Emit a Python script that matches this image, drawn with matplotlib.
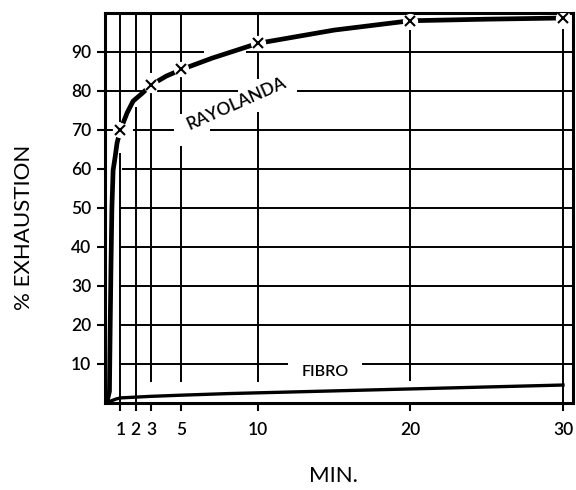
import matplotlib
matplotlib.use("Agg")
import matplotlib.pyplot as plt

plt.rcParams['font.family'] = ['Lato', 'DejaVu Sans']
plt.rcParams['font.weight'] = 'semibold'

# curve (minutes, % exhaustion)
rayolanda_t = [0, 0.15, 0.28, 0.3, 0.33, 0.38, 0.44, 0.52, 0.65, 0.78, 1.0, 1.44,
               1.83, 2.4, 3, 4, 5, 7, 10, 15, 20, 25, 30]
rayolanda_pct = [0, 0.8, 3, 10, 20, 35, 50, 59.7, 63, 66.7, 70, 74.4,
                 77.4, 79.3, 81.5, 83.8, 85.5, 88.4, 92.2, 95.6, 98, 98.4, 98.7]

# measured points (crosses)
marker_t = [1, 3, 5, 10, 20, 30]
marker_pct = [70, 81.5, 85.5, 92.2, 98, 98.7]

fibro_t = [0, 0.3, 0.7, 1, 2, 3, 5, 8, 10, 15, 20, 25, 30]
fibro_pct = [0, 0.4, 1.0, 1.3, 1.5, 1.7, 2.0, 2.4, 2.6, 3.1, 3.6, 4.1, 4.6]

x_ticks = [1, 2, 3, 5, 10, 20, 30]
y_ticks = [10, 20, 30, 40, 50, 60, 70, 80, 90]

XMAX = 30.65

# grid segments, broken where the curve and labels cross (as in the drawing)
h_segments = {
    90: [(0, 6.5), (9.2, XMAX)],
    80: [(0, 2.5), (3.4, 8.7), (12.6, XMAX)],
    70: [(0, 0.5), (1.8, 4.5), (6.9, XMAX)],
    60: [(0, 0.15), (1.1, XMAX)],
    50: [(0.9, XMAX)],
    40: [(0.9, XMAX)],
    30: [(0.9, XMAX)],
    20: [(0.9, XMAX)],
    10: [(0.9, 12.0), (16.8, XMAX)],
}
v_segments = {
    1: [(0, 64), (72, 100)],
    2: [(0, 76), (80, 100)],
    3: [(5.4, 80), (84.5, 100)],
    5: [(5.4, 66), (74, 84), (87.5, 100)],
    10: [(5.4, 74.6), (83, 90.5), (93.5, 100)],
    20: [(5.6, 95.5)],
    30: [(0, 96)],
}

fig = plt.figure(figsize=(5.76, 4.9), dpi=100)
ax = fig.add_axes([0.1826, 0.1776, 0.812, 0.796])

for y, segs in h_segments.items():
    for a, b in segs:
        ax.plot([a, b], [y, y], color='black', lw=1.4, solid_capstyle='butt', zorder=1)
for x, segs in v_segments.items():
    for a, b in segs:
        ax.plot([x, x], [a, b], color='black', lw=1.4, solid_capstyle='butt', zorder=1)

ax.plot(rayolanda_t, rayolanda_pct, color='black', lw=3.4, zorder=3,
        solid_capstyle='butt')
ax.plot(marker_t, marker_pct, 'o', ms=11, color='white', mec='none', zorder=4)
ax.plot(marker_t, marker_pct, 'x', ms=6.5, mew=1.5, color='black', zorder=5)
ax.plot(fibro_t, fibro_pct, color='black', lw=2.4, zorder=3)

ax.text(8.6, 76.8, 'RAYOLANDA', rotation=24, fontsize=12.5,
        ha='center', va='center')
ax.text(14.4, 7.9, 'FIBRO', fontsize=11.5, ha='center', va='center')

ax.set_xlim(0, XMAX)
ax.set_ylim(0, 100)
ax.set_xticks(x_ticks)
ax.set_xticklabels([str(v) for v in x_ticks])
ax.set_yticks(y_ticks)
ax.set_yticklabels([str(v) for v in y_ticks])
ax.tick_params(axis='x', direction='out', length=6, width=1.5, pad=8, labelsize=12.5)
ax.tick_params(axis='y', direction='out', length=6, width=1.5, pad=4, labelsize=12.5)
for s in ax.spines.values():
    s.set_linewidth(2.2)

ax.set_ylabel('% EXHAUSTION', fontsize=16, fontweight='normal')
ax.yaxis.set_label_coords(-0.153, 0.45)
fig.text(333 / 576, 1 - 476 / 490, 'MIN.', fontsize=16, fontweight='normal',
         ha='center', va='center')

fig.savefig('out.png', dpi=100)
